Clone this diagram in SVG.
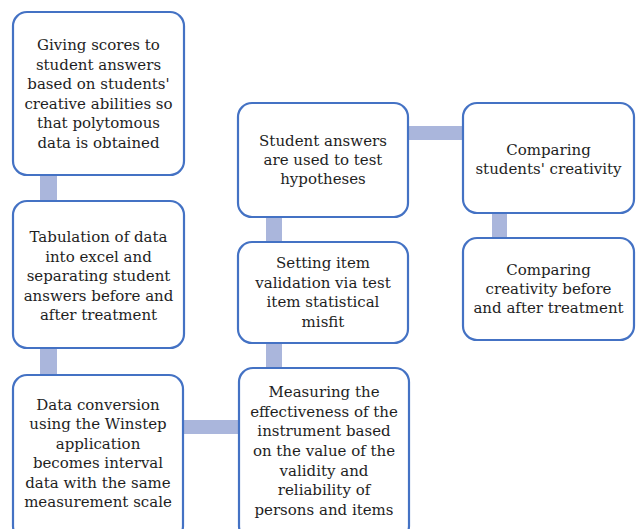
<svg xmlns="http://www.w3.org/2000/svg" width="637" height="529" viewBox="0 0 637 529">
<style>
.box{fill:#fff;stroke:#4472c4;stroke-width:2.2}
.bar{fill:#aab6dc}
text{font-family:"DejaVu Serif","Liberation Serif",serif;font-size:15px;fill:#1e1e1e;text-anchor:middle}
</style>
<rect width="637" height="529" fill="#fff"/>
<g id="connectors">
<rect class="bar" x="40" y="174" width="17" height="28"/>
<rect class="bar" x="40" y="347" width="17" height="29"/>
<rect class="bar" x="182" y="420" width="58" height="14"/>
<rect class="bar" x="266" y="342" width="16" height="27"/>
<rect class="bar" x="266" y="216" width="16" height="27"/>
<rect class="bar" x="407" y="126" width="57" height="14"/>
<rect class="bar" x="492" y="212" width="15" height="27"/>
</g>
<g id="n1">
<rect class="box" x="13" y="12" width="171" height="163" rx="14"/>
<text x="98.5" y="50">Giving scores to</text>
<text x="98.5" y="69.5">student answers</text>
<text x="98.5" y="89">based on students'</text>
<text x="98.5" y="108.5">creative abilities so</text>
<text x="98.5" y="128">that polytomous</text>
<text x="98.5" y="147.5">data is obtained</text>
</g>
<g id="n2">
<rect class="box" x="13" y="201" width="171" height="147" rx="14"/>
<text x="98.5" y="242">Tabulation of data</text>
<text x="98.5" y="261.5">into excel and</text>
<text x="98.5" y="281">separating student</text>
<text x="98.5" y="300.5">answers before and</text>
<text x="98.5" y="320">after treatment</text>
</g>
<g id="n3">
<rect class="box" x="13" y="375" width="170" height="165" rx="14"/>
<text x="98" y="410">Data conversion</text>
<text x="98" y="429.4">using the Winstep</text>
<text x="98" y="448.8">application</text>
<text x="98" y="468.2">becomes interval</text>
<text x="98" y="487.6">data with the same</text>
<text x="98" y="507">measurement scale</text>
</g>
<g id="n4">
<rect class="box" x="239" y="368" width="170" height="172" rx="14"/>
<text x="324" y="397">Measuring the</text>
<text x="324" y="416.7">effectiveness of the</text>
<text x="324" y="436.3">instrument based</text>
<text x="324" y="456">on the value of the</text>
<text x="324" y="475.7">validity and</text>
<text x="324" y="495.3">reliability of</text>
<text x="324" y="515">persons and items</text>
</g>
<g id="n5">
<rect class="box" x="238" y="242" width="170" height="101" rx="14"/>
<text x="323" y="268">Setting item</text>
<text x="323" y="287.7">validation via test</text>
<text x="323" y="307.3">item statistical</text>
<text x="323" y="327">misfit</text>
</g>
<g id="n6">
<rect class="box" x="238" y="103" width="170" height="114" rx="14"/>
<text x="323" y="146">Student answers</text>
<text x="323" y="165">are used to test</text>
<text x="323" y="184">hypotheses</text>
</g>
<g id="n7">
<rect class="box" x="463" y="103" width="171" height="110" rx="14"/>
<text x="548.5" y="155">Comparing</text>
<text x="548.5" y="174">students' creativity</text>
</g>
<g id="n8">
<rect class="box" x="463" y="238" width="171" height="102" rx="14"/>
<text x="548.5" y="275">Comparing</text>
<text x="548.5" y="294">creativity before</text>
<text x="548.5" y="313">and after treatment</text>
</g>
</svg>
